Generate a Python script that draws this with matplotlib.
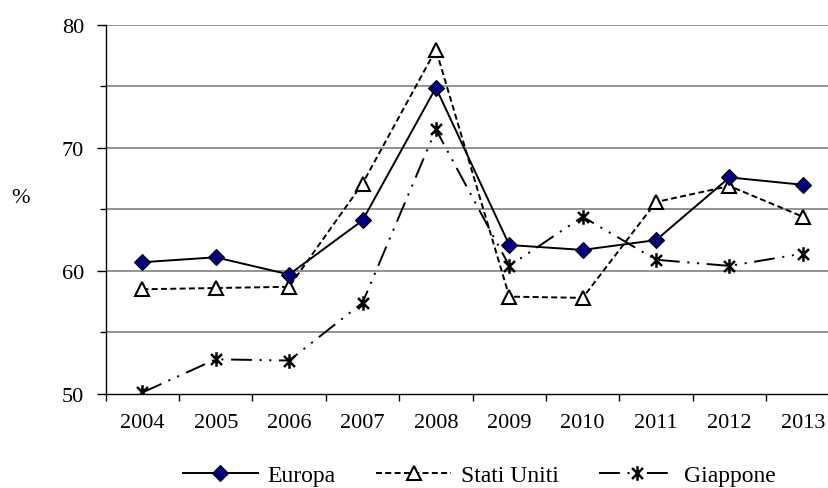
import numpy as np
import matplotlib
matplotlib.use("Agg")
import matplotlib.pyplot as plt
from matplotlib.path import Path

# Quota percentuale per area, 2004-2013
anni = ["2004", "2005", "2006", "2007", "2008", "2009", "2010", "2011", "2012", "2013"]
europa = [60.7, 61.1, 59.7, 64.1, 74.9, 62.1, 61.7, 62.5, 67.6, 67.0]
stati_uniti = [58.5, 58.6, 58.7, 67.1, 78.0, 57.9, 57.8, 65.6, 66.9, 64.4]
giappone = [50.1, 52.8, 52.7, 57.4, 71.5, 60.4, 64.4, 60.9, 60.4, 61.4]

plt.rcParams["font.family"] = ["Liberation Serif", "DejaVu Serif"]
plt.rcParams["lines.scale_dashes"] = False

# asterisco: barra verticale + X
asterisco = Path(
    [(0, -1), (0, 1), (-0.75, -0.75), (0.75, 0.75), (-0.75, 0.75), (0.75, -0.75)],
    [Path.MOVETO, Path.LINETO, Path.MOVETO, Path.LINETO, Path.MOVETO, Path.LINETO],
)

fig = plt.figure(figsize=(8.29, 4.89), dpi=100)
ax = fig.add_axes([0.1275, 0.1928, 0.8852, 0.754])

x = np.arange(len(anni))

ax.plot(x, europa, color="black", lw=1.4, marker="D", ms=8.5,
        mfc="#000080", mec="black", mew=0.8, label="Europa", zorder=4)
ax.plot(x, stati_uniti, color="black", lw=1.4, ls=(0, (4.3, 2.4)), marker="^", ms=10,
        mfc="white", mec="black", mew=1.5, label="Stati Uniti", zorder=3)
ax.plot(x, giappone, color="black", lw=1.4, ls=(0, (15, 5.5, 1.5, 5.5, 1.5, 5.5)),
        marker=asterisco, ms=10.5, mec="black", mew=1.8, label="Giappone", zorder=3)

ax.set_xlim(-0.5, len(anni) - 0.5)
ax.set_ylim(50, 80)

# griglia orizzontale ogni 5 punti
for v in range(55, 81, 5):
    ax.axhline(v, color="#939393", lw=1.4, zorder=1)

ax.set_yticks([50, 60, 70, 80])
ax.set_yticks([55, 65, 75], minor=True)
ax.tick_params(axis="y", which="major", length=6.5, width=1, pad=9, labelsize=16)
ax.tick_params(axis="y", which="minor", length=4.5, width=1)

ax.set_xticks(np.arange(-0.5, len(anni), 1))
ax.set_xticklabels([])
ax.set_xticks(x, minor=True)
ax.set_xticklabels(anni, minor=True)
ax.tick_params(axis="x", which="major", length=5, width=1)
ax.tick_params(axis="x", which="minor", length=0, pad=14, labelsize=16)

for s in ["top", "right"]:
    ax.spines[s].set_visible(False)
for s in ["left", "bottom"]:
    ax.spines[s].set_linewidth(1)
    ax.spines[s].set_zorder(5)

fig.text(21 / 829, 1 - 199 / 489, "%", ha="center", va="center", fontsize=16)

fig.legend(loc="center", bbox_to_anchor=(0.578, 0.026), ncol=3, frameon=False,
           fontsize=17, handlelength=3.2, handletextpad=0.4, columnspacing=1.7)

fig.savefig("out.png", dpi=100)
